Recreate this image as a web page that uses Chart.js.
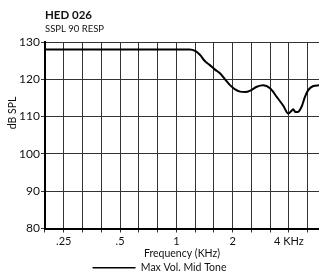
<!DOCTYPE html>
<html>
<head>
<meta charset="utf-8">
<script src="https://cdn.jsdelivr.net/npm/chart.js"></script>
<style>
  html, body { margin: 0; padding: 0; background: #fff; }
  #box { position: relative; width: 319px; height: 273px; }
</style>
</head>
<body>
<div id="box"><canvas id="chart" width="319" height="273"></canvas></div>
<script>
// -------------------------------
// DATA
// -------------------------------

// frequency (kHz) and output (dB SPL)
const freqs = [0.198, 0.5, 1.0, 1.18, 1.26, 1.34, 1.42, 1.51, 1.61, 1.71, 1.82, 1.93, 2.06, 2.19, 2.33, 2.47, 2.69, 2.91, 3.17, 3.44, 3.73, 3.97, 4.13, 4.22, 4.31, 4.44, 4.68, 4.87, 5.07, 5.40, 5.79];
const spl   = [128, 128, 128, 128, 127.6, 126.5, 124.9, 123.8, 122.6, 121.6, 120.0, 118.5, 117.3, 116.7, 116.6, 116.9, 118.0, 118.4, 117.6, 115.3, 112.9, 110.8, 111.6, 112.0, 111.3, 111.2, 112.7, 115.3, 117.1, 118.2, 118.4];

// third-octave grid lines (kHz)
const gridFreqs = [0.198, 0.25, 0.315, 0.397, 0.5, 0.63, 0.794, 1, 1.26, 1.587, 2, 2.52, 3.175, 4, 5.04];
// labelled ticks
const tickValues = [0.25, 0.5, 1, 2, 4];
const tickLabels = [".25", ".5", "1", "2", "4 KHz"];

const yTicks = [80, 90, 100, 110, 120, 130];

const FONT = "Lato";

// -------------------------------
// headings + rotated y title
// -------------------------------
const headings = {
  id: "headings",
  afterDraw(chart) {
    const ctx = chart.ctx;
    ctx.save();
    ctx.fillStyle = "#111";
    ctx.textAlign = "left";
    ctx.textBaseline = "alphabetic";
    ctx.font = "bold 11.5px " + FONT;
    ctx.fillText("HED 026", 45, 19);
    ctx.font = "9.5px " + FONT;
    ctx.fillText("SSPL 90 RESP", 45, 32);

    ctx.translate(16, 113);
    ctx.rotate(-Math.PI / 2);
    ctx.textAlign = "center";
    ctx.font = "10.5px " + FONT;
    ctx.fillText("dB SPL", 0, 0);
    ctx.restore();
  }
};

// -------------------------------
// CHART
// -------------------------------
new Chart(document.getElementById("chart"), {
  type: "line",
  data: {
    datasets: [{
      label: "Max Vol. Mid Tone",
      data: freqs.map((f, i) => ({ x: f, y: spl[i] })),
      borderColor: "#000",
      backgroundColor: "#000",
      borderWidth: 2,
      pointRadius: 0,
      tension: 0.35,
      cubicInterpolationMode: "monotone"
    }]
  },
  options: {
    responsive: false,
    animation: false,
    // legend's built-in 10px gap hangs below the canvas
    layout: { padding: { top: 42, right: 0, bottom: -10, left: 0 } },
    plugins: {
      title: { display: false },
      tooltip: { enabled: false },
      legend: {
        position: "bottom",
        labels: {
          color: "#111",
          font: { family: FONT, size: 10.5 },
          usePointStyle: true,
          pointStyle: "line",
          pointStyleWidth: 43,
          boxHeight: 10,
          padding: 0,
          generateLabels: (chart) => {
            const items = Chart.defaults.plugins.legend.labels.generateLabels(chart);
            items.forEach(it => { it.lineWidth = 1.5; });
            return items;
          }
        }
      }
    },
    scales: {
      x: {
        type: "logarithmic",
        min: 0.1984,
        max: 5.79,
        afterBuildTicks: (scale) => {
          scale.ticks = gridFreqs.map(v => ({ value: v }));
        },
        afterFit: (scale) => { scale.height = 34; },
        ticks: {
          autoSkip: false,
          maxRotation: 0,
          padding: 2,
          color: "#111",
          font: { family: FONT, size: 11 },
          callback: (value) => {
            const i = tickValues.findIndex(t => Math.abs(t - value) < 1e-6);
            return i >= 0 ? tickLabels[i] : "";
          }
        },
        grid: { color: "#333", lineWidth: 1, tickLength: 4, drawTicks: true },
        border: { color: "#000", width: 2 },
        title: {
          display: true,
          text: "Frequency (KHz)",
          color: "#111",
          font: { family: FONT, size: 10.5 },
          padding: { top: 0, bottom: 3 }
        }
      },
      y: {
        min: 80,
        max: 130,
        afterBuildTicks: (scale) => {
          scale.ticks = yTicks.map(v => ({ value: v }));
        },
        afterFit: (scale) => { scale.width = 45; },
        ticks: {
          padding: 1,
          color: "#111",
          font: { family: FONT, size: 12 }
        },
        grid: { color: "#333", lineWidth: 1, tickLength: 4 },
        border: { color: "#000", width: 2 }
      }
    }
  },
  plugins: [headings]
});
</script>
</body>
</html>
